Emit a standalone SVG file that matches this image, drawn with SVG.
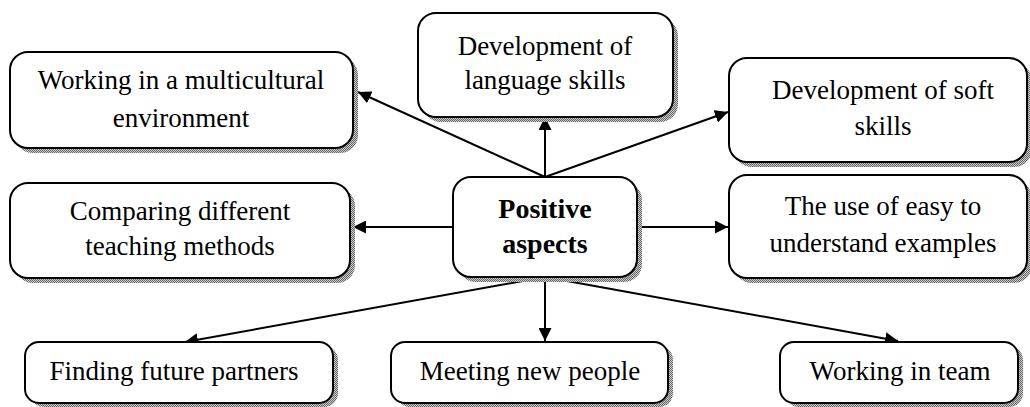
<svg xmlns="http://www.w3.org/2000/svg" width="1030" height="407" viewBox="0 0 1030 407">
<defs>
<style>
.box{fill:#fff;stroke:#000;stroke-width:2}
.sh{fill:url(#dots)}
.t{font-family:"Liberation Serif","Times New Roman",serif;font-size:27px;fill:#000;text-anchor:middle}
.b{font-weight:bold;font-size:28px}
.c{stroke:#000;stroke-width:2;fill:none;marker-end:url(#ah)}
</style>
<pattern id="dots" width="2" height="2" patternUnits="userSpaceOnUse">
<rect width="2" height="2" fill="#c8c8c8"/>
<rect width="1" height="1" fill="#6a6a6a"/>
<rect x="1" y="1" width="1" height="1" fill="#6a6a6a"/>
</pattern>
<marker id="ah" viewBox="0 0 13 13" refX="13" refY="6.5" markerWidth="13" markerHeight="13" markerUnits="userSpaceOnUse" orient="auto">
<path d="M0,0 L13,6.5 L0,13 z" fill="#000"/>
</marker>
</defs>
<rect width="1030" height="407" fill="#fff"/>
<g id="connectors">
<line class="c" x1="545" y1="177" x2="358" y2="92"/>
<line class="c" x1="545" y1="177" x2="545" y2="117"/>
<line class="c" x1="545" y1="177" x2="728" y2="112"/>
<line class="c" x1="453" y1="227" x2="353" y2="227"/>
<line class="c" x1="637" y1="227" x2="728" y2="227"/>
<line class="c" x1="545" y1="277" x2="185" y2="342"/>
<line class="c" x1="545" y1="277" x2="545" y2="341"/>
<line class="c" x1="545" y1="277" x2="898" y2="341"/>
</g>
<g id="n1">
<rect class="sh" x="15" y="57" width="343" height="96" rx="18"/>
<rect class="box" x="10" y="52" width="343" height="96" rx="18"/>
<text class="t" x="181" y="89">Working in a multicultural</text>
<text class="t" x="181" y="127">environment</text>
</g>
<g id="n2">
<rect class="sh" x="423" y="18" width="255" height="104" rx="18"/>
<rect class="box" x="418" y="13" width="255" height="104" rx="18"/>
<text class="t" x="545" y="55">Development of</text>
<text class="t" x="545" y="89">language skills</text>
</g>
<g id="n3">
<rect class="sh" x="734" y="63" width="298" height="104" rx="18"/>
<rect class="box" x="729" y="58" width="298" height="104" rx="18"/>
<text class="t" x="883" y="99">Development of soft</text>
<text class="t" x="883" y="135">skills</text>
</g>
<g id="n4">
<rect class="sh" x="15" y="188" width="340" height="95" rx="18"/>
<rect class="box" x="10" y="183" width="340" height="95" rx="18"/>
<text class="t" x="180" y="220">Comparing different</text>
<text class="t" x="180" y="255">teaching methods</text>
</g>
<g id="center">
<rect class="sh" x="458" y="182" width="184" height="100" rx="18"/>
<rect class="box" x="453" y="177" width="184" height="100" rx="18"/>
<text class="t b" x="545" y="218">Positive</text>
<text class="t b" x="545" y="253">aspects</text>
</g>
<g id="n5">
<rect class="sh" x="734" y="180" width="298" height="103" rx="18"/>
<rect class="box" x="729" y="175" width="298" height="103" rx="18"/>
<text class="t" x="883" y="215">The use of easy to</text>
<text class="t" x="883" y="252">understand examples</text>
</g>
<g id="b1">
<rect class="sh" x="30" y="346" width="308" height="61" rx="14"/>
<rect class="box" x="25" y="342" width="308" height="61" rx="14"/>
<text class="t" x="174" y="380">Finding future partners</text>
</g>
<g id="b2">
<rect class="sh" x="396" y="346" width="277" height="61" rx="14"/>
<rect class="box" x="391" y="342" width="277" height="61" rx="14"/>
<text class="t" x="530" y="380">Meeting new people</text>
</g>
<g id="b3">
<rect class="sh" x="785" y="346" width="238" height="61" rx="14"/>
<rect class="box" x="780" y="342" width="238" height="61" rx="14"/>
<text class="t" x="900" y="380">Working in team</text>
</g>
</svg>
